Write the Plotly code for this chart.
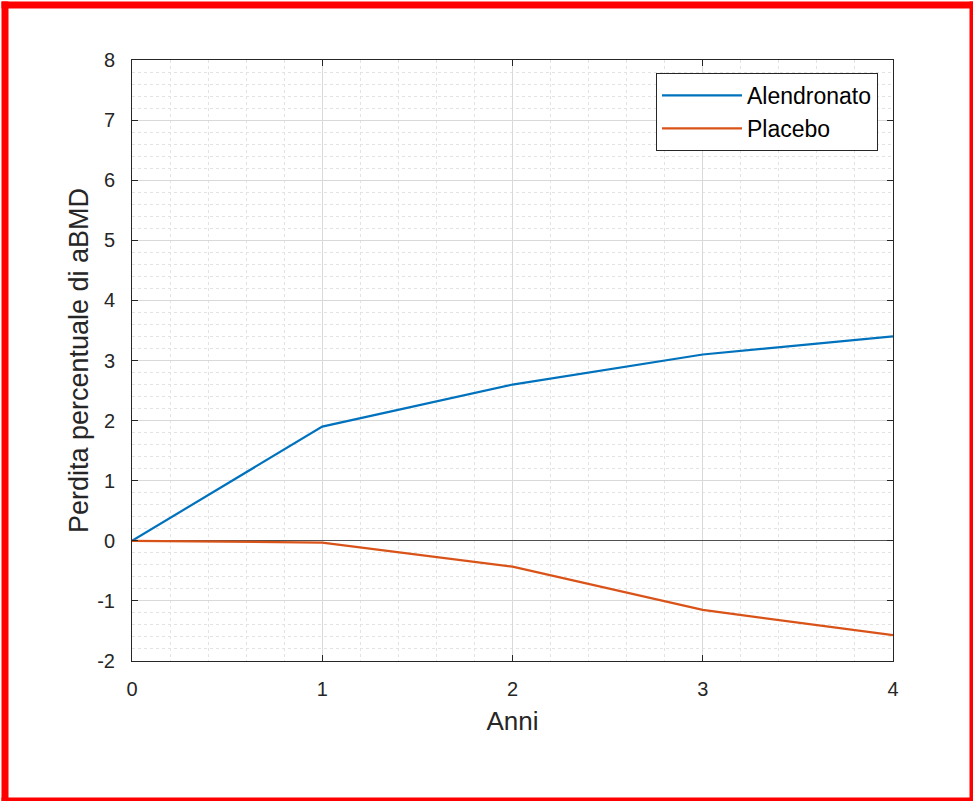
import plotly.graph_objects as go

years = [0, 1, 2, 3, 4]
alendronato = [0.0, 1.9, 2.6, 3.1, 3.4]
placebo = [0.0, -0.03, -0.43, -1.15, -1.57]

x_ticks = [0, 1, 2, 3, 4]
x_tick_labels = ["0", "1", "2", "3", "4"]
y_ticks = [-2, -1, 0, 1, 2, 3, 4, 5, 6, 7, 8]
y_tick_labels = ["-2", "-1", "0", "1", "2", "3", "4", "5", "6", "7", "8"]

W, H = 974, 802
L, R, T, B = 132, 893, 60, 661  # plot area pixels

def px(xp):
    return (xp - L) / (R - L)

def py(yp):
    return (B - yp) / (B - T)

FONT = "Liberation Sans, Arial, sans-serif"
AX = "#262626"

fig = go.Figure()
fig.add_trace(go.Scatter(x=years, y=alendronato, mode="lines", name="Alendronato",
                         line=dict(color="#0072BD", width=2.2)))
fig.add_trace(go.Scatter(x=years, y=placebo, mode="lines", name="Placebo",
                         line=dict(color="#D95319", width=2.2)))

axis_common = dict(
    showline=True, linecolor=AX, linewidth=1, mirror="ticks",
    ticks="inside", ticklen=6, tickcolor=AX, tickwidth=1,
    showgrid=True, gridcolor="#d9d9d9", gridwidth=1,
    tickfont=dict(family=FONT, size=20, color=AX),
)

fig.update_xaxes(
    range=[0, 4], tickvals=x_ticks, ticktext=x_tick_labels, zeroline=False,
    minor=dict(dtick=0.2, showgrid=True, gridcolor="#e3e3e3", griddash="dot", ticks=""),
    title=dict(text="Anni", font=dict(family=FONT, size=26, color=AX), standoff=12),
    ticklabelstandoff=10,
    **axis_common,
)
fig.update_yaxes(
    range=[-2, 8], tickvals=y_ticks, ticktext=y_tick_labels,
    zeroline=True, zerolinecolor="#505050", zerolinewidth=1,
    minor=dict(dtick=0.2, showgrid=True, gridcolor="#e3e3e3", griddash="dot", ticks=""),
    title=dict(text="Perdita percentuale di aBMD", font=dict(family=FONT, size=27, color=AX), standoff=0),
    ticklabelstandoff=12,
    **axis_common,
)

shapes = []
red = "#ff0000"
for (x0, y0, x1, y1) in [(1.5, 1.5, 973, 8.5), (1.5, 1.5, 8.5, 801), (969.5, 1.5, 973, 801), (1.5, 797.5, 973, 801)]:
    shapes.append(dict(type="rect", xref="paper", yref="paper", layer="above",
                       x0=px(x0), x1=px(x1), y0=py(y1), y1=py(y0),
                       fillcolor=red, line=dict(width=0)))

fig.update_layout(
    width=W, height=H,
    margin=dict(l=L, r=W - R, t=T, b=H - B),
    paper_bgcolor="white", plot_bgcolor="white",
    font=dict(family=FONT, color=AX),
    showlegend=True,
    legend=dict(
        x=px(878), y=py(73), xanchor="right", yanchor="top",
        bgcolor="white", bordercolor=AX, borderwidth=1,
        font=dict(family=FONT, size=23, color="#000000"),
        itemwidth=80, tracegroupgap=0,
    ),
    shapes=shapes,
)

fig.write_html("out.html", config={"displayModeBar": False},
               post_script="document.body.style.margin='0';")
